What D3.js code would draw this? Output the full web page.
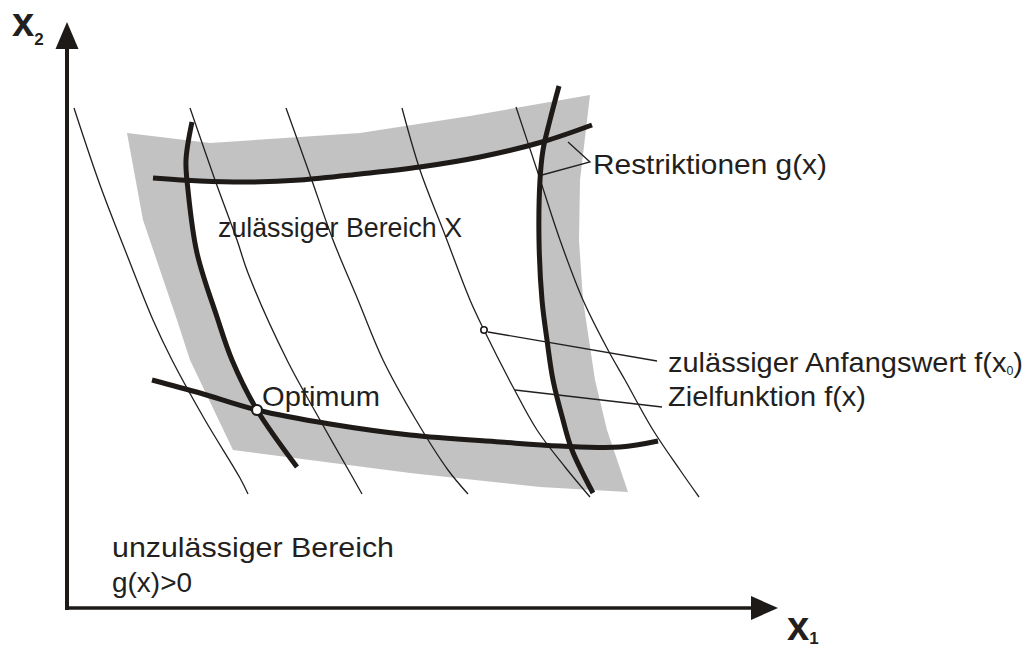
<!DOCTYPE html>
<html>
<head>
<meta charset="utf-8">
<script src="https://cdn.jsdelivr.net/npm/d3@7"></script>
<style>
  body { margin: 0; background: #fff; }
  text { font-family: "Liberation Sans", Arial, sans-serif; fill: #231f20; }
</style>
</head>
<body>
<div id="chart"></div>
<script>
const width = 1032, height = 648;

// schematic units, measured from the axis origin (x1 to the right, x2 upwards)
const x1Max = 711, x2Max = 586;

// grey zone around the feasible region
const grayBand = [[60,475],[143,465],[293,475],[403,492],[523,513],[513,428],[512,368],
  [516,308],[528,228],[540,178],[561,116],[473,121],[343,135],[166,158],[123,248],[110,288],[76,388]];

// feasible region X (white inside the restrictions)
const feasible = [[121,427],[183,426],[233,428],[293,434],[353,441],[413,450],[474,465],
  [473,428],[472,368],[475,308],[480,268],[486,228],[496,188],[501,162],
  [433,166],[343,173],[263,184],[190,198],
  [165,248],[150,291],[130,355],[121,418]];

// restrictions g(x)
const gTop = [[86,430],[133,427],[183,426],[233,428],[293,434],[353,441],[413,451],[475,466],[525,483]];
const gLeft = [[125,486],[119,448],[121,418],[130,355],[150,291],[165,248],[190,198],[230,141]];
const gRight = [[492,522],[483,488],[476,458],[473,428],[472,368],[475,308],[480,268],[486,228],[496,188],[505,158],[526,115]];
const gBottom = [[85,228],[133,215],[190,198],[263,184],[343,173],[433,166],[493,162],[553,161],[591,167]];

// objective function contours f(x)
const contours = [
  [[7,500],[33,423],[60,353],[86,288],[105,248],[138,188],[173,130],[181,114]],
  [[123,500],[148,428],[170,368],[181,335],[220,248],[253,188],[286,130],[295,114]],
  [[219,500],[243,433],[266,368],[291,308],[316,248],[349,188],[381,138],[401,114]],
  [[335,500],[353,438],[378,373],[403,308],[417,278],[446,221],[470,178],[498,141],[523,111]],
  [[449,501],[470,438],[493,368],[516,308],[541,258],[558,228],[586,178],[613,138],[632,111]]
];

// leader lines
const leaders = [
  [[501,466],[523,446],[475,433]],
  [[421,276],[590,247]],
  [[448,218],[595,201]]
];

const optimum = [190, 198];
const startValue = [417, 278];

const labelTexts = ["Restriktionen g(x)", "zulässiger Bereich X", "Zielfunktion f(x)",
  "Optimum", "unzulässiger Bereich", "g(x)>0"];

// where each label sits (schematic units) and how wide it runs (px)
const labelLayout = {
  "Restriktionen g(x)":   {x: 526, y: 434, w: 234},
  "zulässiger Bereich X": {x: 151, y: 371, w: 244},
  "Zielfunktion f(x)":    {x: 601, y: 202, w: 198},
  "Optimum":              {x: 195, y: 202, w: 118},
  "unzulässiger Bereich": {x: 45,  y: 51,  w: 282},
  "g(x)>0":               {x: 45,  y: 16,  w: 80}
};

const x = d3.scaleLinear().domain([0, x1Max]).range([67, 778]);
const y = d3.scaleLinear().domain([0, x2Max]).range([608, 22]);

const svg = d3.select("#chart").append("svg")
  .attr("width", width)
  .attr("height", height);

const poly = d3.line().x(d => x(d[0])).y(d => y(d[1])).curve(d3.curveLinearClosed);
const smooth = d3.line().x(d => x(d[0])).y(d => y(d[1])).curve(d3.curveCatmullRom);
const straight = d3.line().x(d => x(d[0])).y(d => y(d[1]));

svg.append("path").attr("d", poly(grayBand)).attr("fill", "#c2c2c2");
svg.append("path").attr("d", poly(feasible)).attr("fill", "#fff");

svg.selectAll(".contour")
  .data(contours)
  .enter()
  .append("path")
    .attr("class", "contour")
    .attr("d", smooth)
    .attr("fill", "none")
    .attr("stroke", "#231f20")
    .attr("stroke-width", 1.3);

svg.selectAll(".restriction")
  .data([gTop, gLeft, gRight, gBottom])
  .enter()
  .append("path")
    .attr("class", "restriction")
    .attr("d", smooth)
    .attr("fill", "none")
    .attr("stroke", "#1d1a18")
    .attr("stroke-width", 5);

svg.selectAll(".leader")
  .data(leaders)
  .enter()
  .append("path")
    .attr("class", "leader")
    .attr("d", straight)
    .attr("fill", "none")
    .attr("stroke", "#231f20")
    .attr("stroke-width", 1.3);

svg.append("circle")
  .attr("cx", x(optimum[0])).attr("cy", y(optimum[1])).attr("r", 5)
  .attr("fill", "#fff").attr("stroke", "#1d1a18").attr("stroke-width", 2.2);

svg.append("circle")
  .attr("cx", x(startValue[0])).attr("cy", y(startValue[1])).attr("r", 3.2)
  .attr("fill", "#fff").attr("stroke", "#1d1a18").attr("stroke-width", 1.6);

svg.selectAll(".label")
  .data(labelTexts)
  .enter()
  .append("text")
    .attr("class", "label")
    .attr("x", d => x(labelLayout[d].x))
    .attr("y", d => y(labelLayout[d].y))
    .attr("font-size", 28)
    .attr("textLength", d => labelLayout[d].w)
    .attr("lengthAdjust", "spacingAndGlyphs")
    .text(d => d);

const start = svg.append("text")
  .attr("x", x(601)).attr("y", y(236))
  .attr("font-size", 28)
  .attr("textLength", 355)
  .attr("lengthAdjust", "spacingAndGlyphs");
start.append("tspan").text("zulässiger Anfangswert f(x");
start.append("tspan").attr("font-size", 12).attr("dy", 3).text("0");
start.append("tspan").attr("dy", -3).text(")");

// axes
svg.append("line")
  .attr("x1", x(0)).attr("y1", y(0) + 2)
  .attr("x2", x(0)).attr("y2", y(x2Max) + 20)
  .attr("stroke", "#1d1a18").attr("stroke-width", 4);
svg.append("line")
  .attr("x1", x(0) - 2).attr("y1", y(0))
  .attr("x2", x(x1Max) - 20).attr("y2", y(0))
  .attr("stroke", "#1d1a18").attr("stroke-width", 3.6);

svg.append("path")
  .attr("d", `M${x(0)},${y(x2Max)} L${x(0) + 11.5},${y(x2Max) + 27} L${x(0) - 11.5},${y(x2Max) + 27} Z`)
  .attr("fill", "#1d1a18");
svg.append("path")
  .attr("d", `M${x(x1Max)},${y(0)} L${x(x1Max) - 27},${y(0) - 12} L${x(x1Max) - 27},${y(0) + 12} Z`)
  .attr("fill", "#1d1a18");

const x2Label = svg.append("text")
  .attr("x", x(-55)).attr("y", y(572))
  .attr("font-size", 40).attr("font-weight", "bold");
x2Label.append("tspan").text("x");
x2Label.append("tspan").attr("font-size", 17).attr("dy", 9).text("2");

const x1Label = svg.append("text")
  .attr("x", x(720)).attr("y", y(-32))
  .attr("font-size", 40).attr("font-weight", "bold");
x1Label.append("tspan").text("x");
x1Label.append("tspan").attr("font-size", 17).attr("dy", 4).text("1");
</script>
</body>
</html>
